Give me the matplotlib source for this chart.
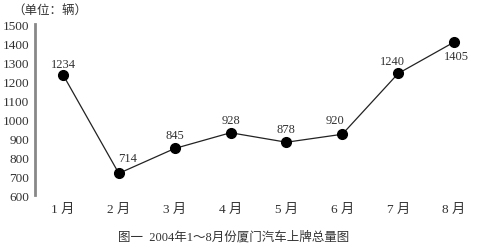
import matplotlib
matplotlib.use("Agg")
from matplotlib import pyplot as plt

plt.rcParams["font.family"] = ["Liberation Serif", "Noto Sans CJK SC", "DejaVu Sans"]

months = ["1 月", "2 月", "3 月", "4 月", "5 月", "6 月", "7 月", "8 月"]
cars = [1234, 714, 845, 928, 878, 920, 1240, 1405]
yticks = [600, 700, 800, 900, 1000, 1100, 1200, 1300, 1400, 1500]

fig = plt.figure(figsize=(4.89, 2.51), dpi=100)
ax = fig.add_axes([0.0716, 0.219, 0.914, 0.681])

x = list(range(1, len(months) + 1))
ax.plot(x, cars, color="#222222", lw=0.9, marker="o", markersize=7,
        markerfacecolor="black", markeredgecolor="black")

# label nudges (points) so text sits like in the original
nudge = {714: (6, 11), 920: (-5, 10), 1240: (-4, 9), 1405: (2, -10), 1234: (0, 8)}
for xi, v in zip(x, cars):
    dx, dy = nudge.get(v, (0, 9.5))
    ax.annotate(str(v), (xi, v), xytext=(dx, dy), textcoords="offset points",
                ha="center", va="center", fontsize=9, color="#333333")

ax.set_xlim(0.5, 8.5)
ax.set_ylim(600, 1500)
ax.set_yticks(yticks)
ax.set_xticks(x)
ax.set_xticklabels(months)
ax.tick_params(axis="both", length=0, labelsize=9.5, colors="#333333")
ax.tick_params(axis="x", pad=6)
ax.tick_params(axis="y", pad=4)

for s in ["top", "right", "bottom"]:
    ax.spines[s].set_visible(False)
ax.spines["left"].set_color("#888888")
ax.spines["left"].set_linewidth(2)

fig.text(0.025, 0.955, "（单位：辆）", fontsize=9, color="#333333", ha="left", va="center")
fig.text(0.477, 0.055, "图一  2004年1～8月份厦门汽车上牌总量图", fontsize=9,
         color="#333333", ha="center", va="center")

fig.savefig("out.png", dpi=100)
